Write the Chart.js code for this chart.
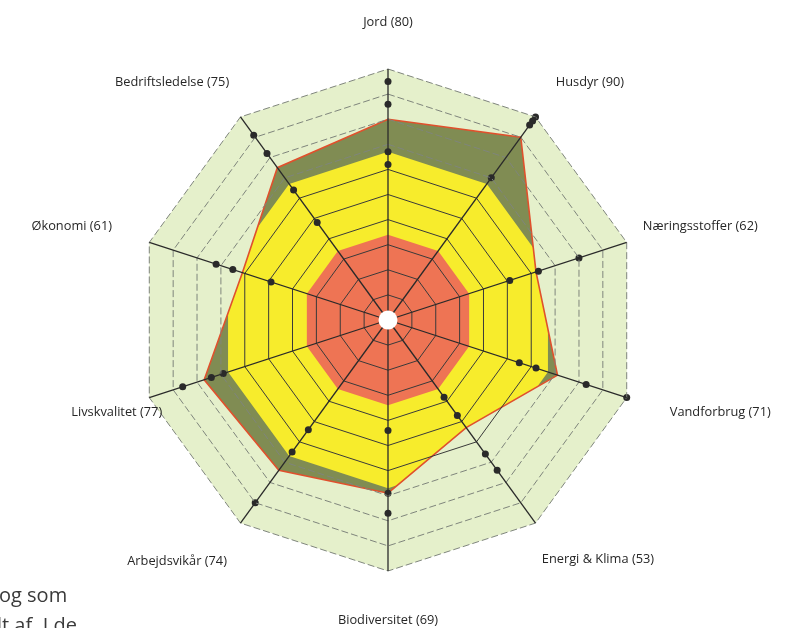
<!DOCTYPE html>
<html>
<head>
<meta charset="utf-8">
<script src="https://cdn.jsdelivr.net/npm/chart.js@4.4.0/dist/chart.umd.min.js"></script>
<style>
  html, body { margin: 0; padding: 0; background: #fff; }
  #wrap { position: relative; width: 789px; height: 628px; overflow: hidden; }
  .page { position: absolute; font-family: "Open Sans", sans-serif; font-size: 20px; color: #3a3a3a; white-space: nowrap; }
</style>
</head>
<body>
<div id="wrap">
  <canvas id="chart" width="789" height="628"></canvas>
  <div class="page" style="left:-1px; top:581px;">og som</div>
  <div class="page" style="left:-3px; top:611px;">lt af. I de</div>
</div>
<script>
var categories = ['Jord', 'Husdyr', 'Næringsstoffer', 'Vandforbrug', 'Energi & Klima',
                  'Biodiversitet', 'Arbejdsvikår', 'Livskvalitet', 'Økonomi', 'Bedriftsledelse'];
var scores = [80, 90, 62, 71, 53, 69, 74, 77, 61, 75];

// the black dots on each axis
var dotsA = [62, 70, 51, 55, 38, 44, 54, 69, 49, 48];
var dotsB = [67, 96, 63, 62, 47, 69, 65, 74, 65, 64];
var dotsC = [86, 98, 80, 83, 66, 77, 90, 86, 72, 82];
var dotsD = [95, 100, null, 100, 74, null, null, null, null, 91];

// zone limits
var redLimit = [34, 34, 34, 34, 34, 34, 34, 34, 34, 34];
var yellowLimit = [67, 67, 67, 67, 67, 67, 67, 67, 67, 67];
var maxLimit = [100, 100, 100, 100, 100, 100, 100, 100, 100, 100];

// label placement (px)
var labelGap = 50;
var labelNudge = [[0, 3], [25, 6], [26, -1], [46, -1], [33, -4], [0, -1], [-34, -2], [15, -1], [-30, -1], [-39, 6]];

function dots(values) {
  return {
    data: values, showLine: false, fill: false, order: 0,
    pointRadius: 3.5, pointBackgroundColor: '#2a2a2a', pointBorderWidth: 0, borderWidth: 0
  };
}

var overlay = {
  id: 'overlay',
  afterDraw: function (chart) {
    var r = chart.scales.r, ctx = chart.ctx;
    ctx.save();
    ctx.fillStyle = '#fff';
    ctx.beginPath();
    ctx.arc(r.xCenter, r.yCenter, 9.5, 0, Math.PI * 2);
    ctx.fill();
    ctx.font = '12.8px "Open Sans"';
    ctx.fillStyle = '#262626';
    ctx.textAlign = 'center';
    ctx.textBaseline = 'middle';
    for (var i = 0; i < categories.length; i++) {
      var p = r.getPointPosition(i, r.drawingArea + labelGap);
      ctx.fillText(categories[i] + ' (' + scores[i] + ')', p.x + labelNudge[i][0], p.y + labelNudge[i][1]);
    }
    ctx.restore();
  }
};

var ctx = document.getElementById('chart').getContext('2d');
var myRadar = new Chart(ctx, {
  type: 'radar',
  data: {
    labels: categories,
    datasets: [
      dots(dotsA), dots(dotsB), dots(dotsC), dots(dotsD),
      // 4: score line
      { data: scores, fill: false, order: 1, borderColor: '#e0502c', borderWidth: 1.6, pointRadius: 0 },
      // 5: pale green outside the score polygon
      { data: maxLimit, fill: 4, order: 2, backgroundColor: '#e5f0cb', borderWidth: 0, pointRadius: 0 },
      // 6: red zone
      { data: redLimit, fill: 'origin', order: 3, backgroundColor: '#ee7454', borderWidth: 0, pointRadius: 0 },
      // 7: yellow zone
      { data: yellowLimit, fill: 'origin', order: 4, backgroundColor: '#f7ec2c', borderWidth: 0, pointRadius: 0 },
      // 8: olive score area
      { data: scores, fill: 'origin', order: 5, backgroundColor: '#808c53', borderWidth: 0, pointRadius: 0 }
    ]
  },
  options: {
    responsive: false,
    animation: false,
    layout: { padding: { top: 69, bottom: 57, left: 88, right: 101 } },
    plugins: { legend: { display: false }, tooltip: { enabled: false } },
    scales: {
      r: {
        min: 0, max: 100,
        ticks: { display: false, stepSize: 10 },
        pointLabels: { display: false },
        angleLines: { color: '#2a2a2a', lineWidth: 1.3 },
        grid: {
          z: 1,
          lineWidth: 1,
          color: function (c) { return c.tick && c.tick.value >= 70 ? '#7f857c' : '#3a3a3a'; }
        },
        border: {
          dash: function (c) { return c.tick && c.tick.value >= 70 ? [7, 3] : []; }
        }
      }
    }
  },
  plugins: [overlay]
});
</script>
</body>
</html>
